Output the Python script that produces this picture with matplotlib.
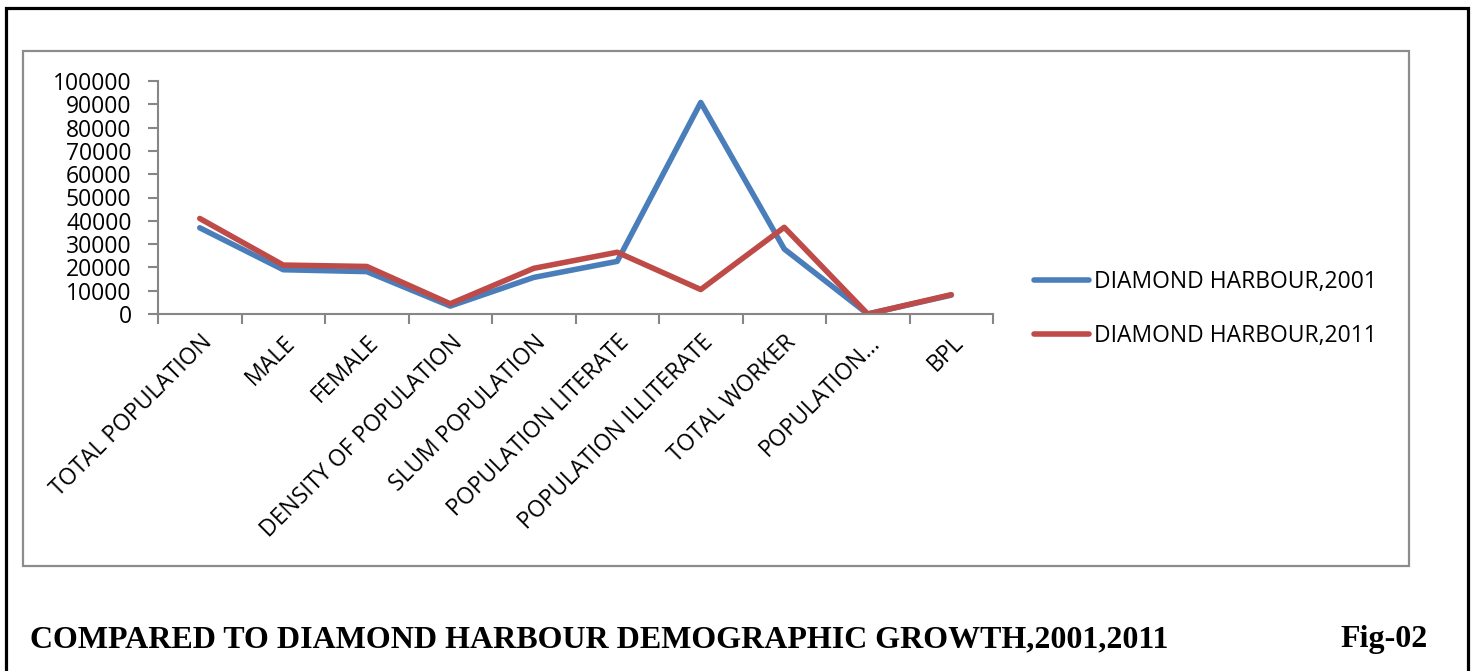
import matplotlib
matplotlib.use("Agg")
import matplotlib.pyplot as plt
from matplotlib.patches import Rectangle

categories = ["TOTAL POPULATION", "MALE", "FEMALE", "DENSITY OF POPULATION",
              "SLUM POPULATION", "POPULATION LITERATE", "POPULATION ILLITERATE",
              "TOTAL WORKER", "POPULATION…", "BPL"]
dh_2001 = [37000, 19000, 18200, 3400, 15700, 22600, 90800, 27900, 0, 8100]
dh_2011 = [41000, 21000, 20400, 4400, 19600, 26500, 10500, 37200, 0, 8300]
series_labels = ["DIAMOND HARBOUR,2001", "DIAMOND HARBOUR,2011"]
yticks = list(range(0, 100001, 10000))

W, H = 1476, 671
fig = plt.figure(figsize=(W / 100, H / 100), dpi=100)
fig.patch.set_facecolor("white")

def fx(px):
    return px / W

def fy(py):
    return 1 - py / H

# outer black frame
fig.add_artist(Rectangle((fx(6), fy(690)), fx(1468) - fx(6), fy(8) - fy(690),
                         transform=fig.transFigure, fill=False,
                         edgecolor="black", linewidth=2.3))
# inner chart frame
fig.add_artist(Rectangle((fx(23), fy(566)), fx(1409) - fx(23), fy(51) - fy(566),
                         transform=fig.transFigure, fill=False,
                         edgecolor="#8c8c8c", linewidth=1.6))

font = "Open Sans"
fs = 16.5
ax = fig.add_axes([fx(158), fy(314), fx(993) - fx(158), fy(81) - fy(314)])
x = list(range(len(categories)))
l1, = ax.plot(x, dh_2001, color="#4A7EBB", lw=4, solid_capstyle="round",
              solid_joinstyle="round", label=series_labels[0])
l2, = ax.plot(x, dh_2011, color="#BE4B48", lw=4, solid_capstyle="round",
              solid_joinstyle="round", label=series_labels[1])

ax.set_xlim(-0.5, len(categories) - 0.5)
ax.set_ylim(0, 100000)
for s in ["top", "right"]:
    ax.spines[s].set_visible(False)
for s in ["left", "bottom"]:
    ax.spines[s].set_color("#868686")
    ax.spines[s].set_linewidth(1.5)

ax.set_yticks(yticks)
ax.set_yticklabels([str(v) for v in yticks], fontname=font, fontsize=fs)
ax.tick_params(axis="y", direction="out", length=7, width=1.5, color="#868686", pad=12)

ax.set_xticks([i - 0.5 for i in range(len(categories) + 1)])
ax.set_xticklabels([])
ax.tick_params(axis="x", which="major", direction="out", length=7, width=1.5, color="#868686")
ax.set_xticks(x, minor=True)
ax.set_xticklabels(categories, minor=True, rotation=45, ha="right", va="top",
                   rotation_mode="anchor", fontname=font, fontsize=fs)
ax.tick_params(axis="x", which="minor", length=0, pad=12)

fig.legend(handles=[l1, l2], labels=series_labels, loc="center left",
           bbox_to_anchor=(fx(1034), fy(309)), frameon=False,
           prop={"family": font, "size": fs}, handlelength=2.4,
           handletextpad=0.2, labelspacing=1.35, borderaxespad=0, borderpad=0)

fig.text(fx(30), fy(647), "COMPARED TO DIAMOND HARBOUR DEMOGRAPHIC GROWTH,2001,2011",
         fontname="Liberation Serif", fontweight="bold", fontsize=23, va="baseline", ha="left")
fig.text(fx(1428), fy(647), "Fig-02", fontname="Liberation Serif", fontweight="bold",
         fontsize=23, va="baseline", ha="right")

fig.savefig("out.png", dpi=100, facecolor="white")
